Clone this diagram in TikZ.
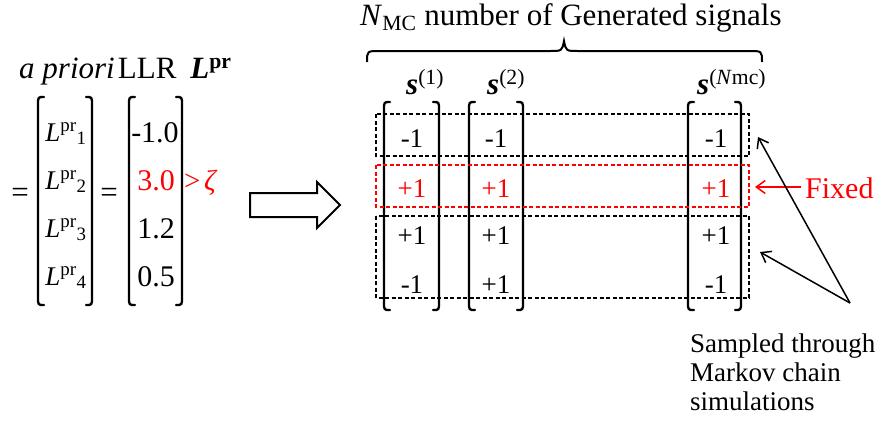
\documentclass[tikz,border=0pt]{standalone}
\usepackage{fontspec}
\setmainfont{Liberation Serif}
\usetikzlibrary{arrows.meta}
\newcommand\lbrk[3]{\draw[brk] (#1+6,#2) .. controls (#1,#2) .. (#1,#2+8) -- (#1,#3-8) .. controls (#1,#3) .. (#1+6,#3);}
\newcommand\rbrk[3]{\draw[brk] (#1-6,#2) .. controls (#1,#2) .. (#1,#2+8) -- (#1,#3-8) .. controls (#1,#3) .. (#1-6,#3);}
\tikzset{
  txt/.style={font=\fontsize{27}{29}\selectfont, inner sep=0pt, anchor=base},
  big/.style={font=\fontsize{31}{33}\selectfont},
  mid/.style={font=\fontsize{30}{32}\selectfont},
  brk/.style={line width=2.3pt, line cap=round},
  dbox/.style={draw, dashed, dash pattern=on 4pt off 2.5pt, line width=1.8pt},
  thinarrow/.style={line width=1.5pt, -{Straight Barb[length=9pt,width=13pt,line width=1.5pt]}},
}
\begin{document}
\begin{tikzpicture}[x=1pt,y=-1pt]
\useasboundingbox (0,0) rectangle (881,426);
% left part
\node[txt, big, anchor=base west] (title) at (19,78) {\textit{a priori}\hspace{0.1em}LLR\hspace{0.45em}\textbf{\textit{L}}\textsuperscript{\textbf{pr}}};
\node[txt, big] (eqa) at (20,202) {=};
\node[txt, big] (eqb) at (109,202) {=};
\lbrk{38}{97}{305}
\rbrk{92}{97}{305}
\lbrk{129}{97}{305}
\rbrk{182}{97}{305}
\node[txt] (l1) at (66,141) {\textit{L}\textsuperscript{pr}\textsubscript{1}};
\node[txt] (l2) at (66,189) {\textit{L}\textsuperscript{pr}\textsubscript{2}};
\node[txt] (l3) at (66,237) {\textit{L}\textsuperscript{pr}\textsubscript{3}};
\node[txt] (l4) at (66,285) {\textit{L}\textsuperscript{pr}\textsubscript{4}};
\node[txt, mid] (v1) at (155,142) {-1.0};
\node[txt, mid, red] (v2) at (156,190) {3.0};
\node[txt, mid] (v3) at (156,238) {1.2};
\node[txt, mid] (v4) at (156,286) {0.5};
\node[txt, red, font=\fontsize{29}{31}\selectfont, anchor=base west] (zeta) at (184,190) {>\hspace{0.12em}\textit{ζ}};
% block arrow
\draw[line width=2pt, line join=miter] (250,193) -- (317,193) -- (317,182) -- (340,205) -- (317,228) -- (317,217) -- (250,217) -- cycle;
% right part
\node[txt, big, anchor=base west] (ntitle) at (360,25) {\textit{N}\textsubscript{MC} number of Generated signals};
\draw[line width=2pt] (367,62) .. controls (367,51) .. (380,51) -- (550,51) .. controls (562,51) .. (564,41) .. controls (566,51) .. (578,51) -- (749,51) .. controls (762,51) .. (762,62);
\node[txt, big, anchor=base west] (s1) at (406,94) {\textbf{\textit{s}}\textsuperscript{(1)}};
\node[txt, big, anchor=base west] (s2) at (487,94) {\textbf{\textit{s}}\textsuperscript{(2)}};
\node[txt, big, anchor=base west] (s3) at (697,94) {\textbf{\textit{s}}\textsuperscript{(\textit{N}mc)}};
\lbrk{384}{102}{310}
\rbrk{439}{102}{310}
\lbrk{469}{102}{310}
\rbrk{523}{102}{310}
\lbrk{688}{102}{310}
\rbrk{741}{102}{310}
\draw[dbox] (376,114) rectangle (749,156);
\draw[dbox, red] (376,165) rectangle (749,207);
\draw[dbox] (376,216) rectangle (749,298);
\node[txt] (a1) at (412,147) {-1};
\node[txt, red] (a2) at (412,197) {+1};
\node[txt] (a3) at (412,244) {+1};
\node[txt] (a4) at (412,293) {-1};
\node[txt] (b1) at (496,147) {-1};
\node[txt, red] (b2) at (496,197) {+1};
\node[txt] (b3) at (496,244) {+1};
\node[txt] (b4) at (496,293) {+1};
\node[txt] (c1) at (716,147) {-1};
\node[txt, red] (c2) at (716,197) {+1};
\node[txt] (c3) at (716,244) {+1};
\node[txt] (c4) at (716,293) {-1};
\node[txt, red, font=\fontsize{30}{32}\selectfont, anchor=base west] (fixed) at (805,198) {Fixed};
\coordinate (fixtip) at (755,187);
\draw[thinarrow, red] (fixed.west |- fixtip) ++(-4,0) -- (fixtip);
\coordinate (src) at (850,303);
\coordinate (t1) at (758,137);
\coordinate (t2) at (760,252);
\draw[thinarrow] (src) -- (t1);
\draw[thinarrow] (src) -- (t2);
\node[txt, anchor=base west, align=left] (samp) at (690,410) {Sampled through\\Markov chain\\simulations};
\end{tikzpicture}
\end{document}
